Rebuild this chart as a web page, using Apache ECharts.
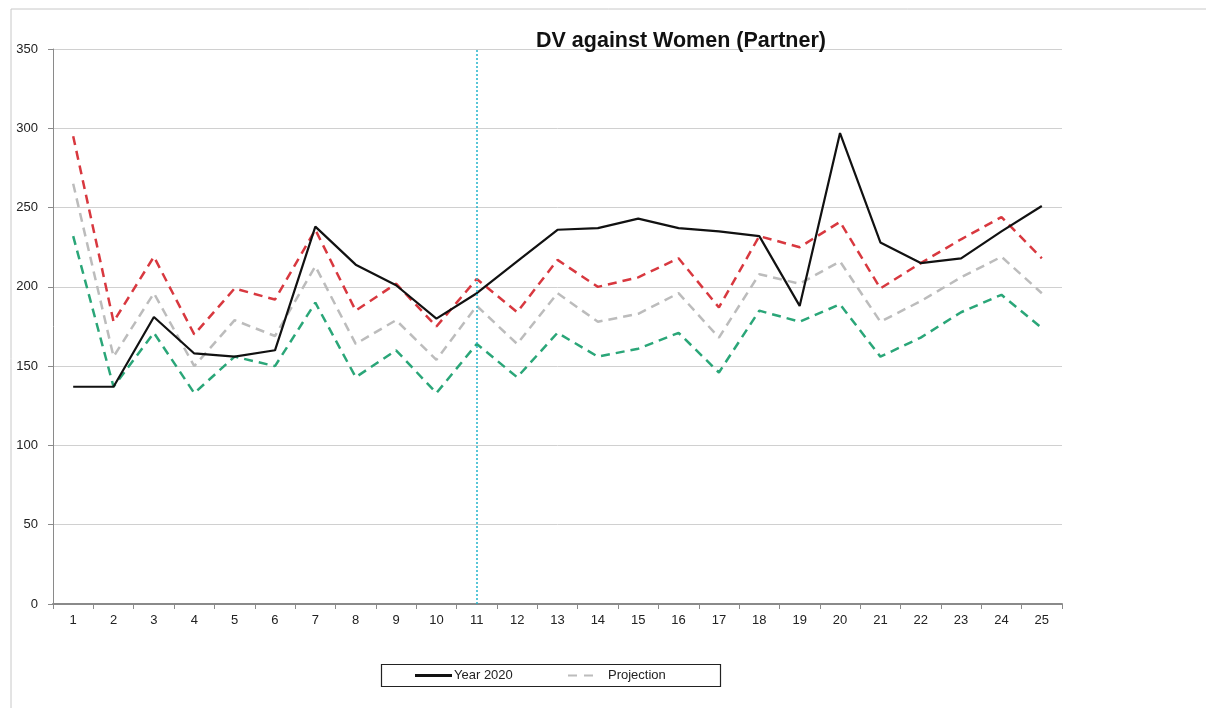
<!DOCTYPE html>
<html>
<head>
<meta charset="utf-8">
<script src="https://cdn.jsdelivr.net/npm/echarts@6/dist/echarts.min.js"></script>
<style>
html,body{margin:0;padding:0;background:#fff;}
#chart{width:1206px;height:708px;}
</style>
</head>
<body>
<div id="chart"></div>
<script>
const categories = ['1','2','3','4','5','6','7','8','9','10','11','12','13','14','15','16','17','18','19','20','21','22','23','24','25'];
const year2020 = [137,137,181,158,156,160,238,214,201,180,196,216,236,237,243,237,235,232,188,297,228,215,218,235,251];
const upperBound = [295,178,219,170,199,192,236,185,202,175,205,184,217,200,206,218,187,232,225,241,199,215,230,244,218];
const projection = [265,156,196,150,179,169,213,164,179,154,188,164,196,178,183,196,168,208,202,216,178,191,206,219,196];
const lowerBound = [232,137,171,133,156,150,190,143,160,133,164,143,171,156,161,171,146,185,178,189,156,168,184,195,174];
const yTicks = [0,50,100,150,200,250,300,350];
const markerCategory = '11';

const chart = echarts.init(document.getElementById('chart'), null, {renderer:'canvas'});
const dashed = (color) => ({color: color, width: 2.5, type: [9, 6]});
const font = 'Liberation Sans';
chart.setOption({
  animation: false,
  backgroundColor: '#fff',
  title: {
    text: 'DV against Women (Partner)',
    left: 531, top: 25,
    textStyle: {fontFamily: font, fontWeight: 'bold', fontSize: 21.5, color: '#111'}
  },
  graphic: [
    {type: 'polyline', shape: {points: [[11, 708], [11, 9], [1206, 9]]}, style: {stroke: '#c8c8c8', lineWidth: 1, fill: null}},
    {type: 'rect', shape: {x: 381.5, y: 664.5, width: 339, height: 22}, style: {stroke: '#222', lineWidth: 1.2, fill: null}}
  ],
  grid: {left: 53, right: 144, top: 49, bottom: 104},
  legend: [
    {
      data: [{name: 'Year 2020', icon: 'rect'}],
      left: 415, top: 669, padding: 0,
      itemWidth: 37, itemHeight: 3,
      textStyle: {fontFamily: font, fontSize: 13, color: '#222', padding: [0, 0, 0, -3]}
    },
    {
      data: [{name: 'Projection', icon: 'path://M0,0 H9 V2 H0 Z M16,0 H25 V2 H16 Z'}],
      left: 568, top: 669, padding: 0,
      itemWidth: 25, itemHeight: 2,
      textStyle: {fontFamily: font, fontSize: 13, color: '#222', padding: [0, 0, 0, 10]}
    }
  ],
  xAxis: {
    type: 'category',
    data: categories,
    boundaryGap: true,
    axisLine: {lineStyle: {color: '#8a8a8a', width: 2}},
    axisTick: {show: true, length: 5, lineStyle: {color: '#8a8a8a'}},
    axisLabel: {fontFamily: font, fontSize: 13, color: '#222', margin: 10}
  },
  yAxis: {
    type: 'value',
    min: 0, max: 350, interval: 50,
    axisLine: {show: true, lineStyle: {color: '#8a8a8a'}},
    axisTick: {show: true, length: 5, lineStyle: {color: '#8a8a8a'}},
    axisLabel: {fontFamily: font, fontSize: 13, color: '#222', margin: 15,
      formatter: (v) => yTicks.includes(v) ? String(v) : ''},
    splitLine: {lineStyle: {color: '#d0d0d0', width: 1}}
  },
  series: [
    {
      name: 'Upper', type: 'line', data: upperBound, symbol: 'none',
      lineStyle: dashed('#d8383f'), z: 2
    },
    {
      name: 'Projection', type: 'line', data: projection, symbol: 'none',
      lineStyle: dashed('#bcbcbc'), itemStyle: {color: '#bcbcbc'}, z: 2
    },
    {
      name: 'Lower', type: 'line', data: lowerBound, symbol: 'none',
      lineStyle: dashed('#2aa678'), z: 2
    },
    {
      name: 'Year 2020', type: 'line', data: year2020, symbol: 'none',
      lineStyle: {color: '#111', width: 2.2}, itemStyle: {color: '#111'}, z: 3,
      markLine: {
        silent: true, symbol: 'none', label: {show: false},
        lineStyle: {color: '#22b4cc', type: [2, 2], width: 1.5},
        data: [{xAxis: markerCategory}]
      }
    }
  ]
});
</script>
</body>
</html>
